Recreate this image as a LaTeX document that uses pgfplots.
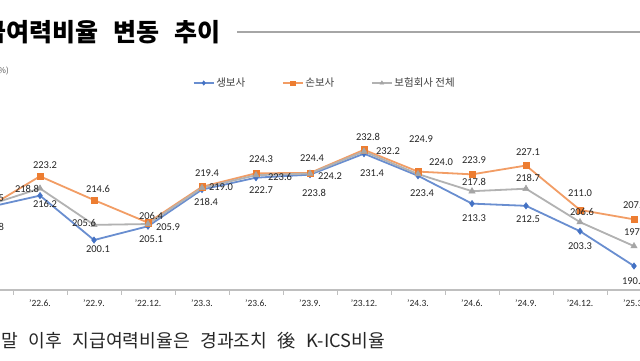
\documentclass[border=0pt]{standalone}
\usepackage{fontspec}
\usepackage{pgfplots}
\usepackage{pgfplotstable}
\pgfplotsset{compat=1.18}
\setmainfont{Carlito}
\newfontfamily\kr{Noto Sans CJK KR}
\definecolor{cblue}{HTML}{4472C4}
\definecolor{corange}{HTML}{ED7D31}
\definecolor{cgray}{HTML}{A5A5A5}
\definecolor{txt}{HTML}{262626}
\definecolor{axisgray}{HTML}{BFBFBF}

\pgfplotstableread{
x y lab dx dy
0 211.8 211.8 6 -19
1 216.2 216.2 5 -8
2 200.1 200.1 4 -9
3 205.1 205.1 3 -13
4 218.4 218.4 4 -12
5 222.7 222.7 5 -12
6 223.8 223.8 4 -18
7 231.4 231.4 8 -19
8 223.4 223.4 4 -17
9 213.3 213.3 2 -15
10 212.5 212.5 2 -13
11 203.3 203.3 0 -15
12 190.7 190.7 0 -15
}\life

\pgfplotstableread{
x y lab dx dy
0 211.5 211.5 6 10
1 223.2 223.2 5 11.5
2 214.6 214.6 4 11
3 206.4 206.4 3 7
4 219.4 219.4 5 14
5 224.3 224.3 5 14
6 224.4 224.4 2 15
7 232.8 232.8 4 13
8 224.9 224.9 3 32
9 223.9 223.9 2 14.5
10 227.1 227.1 2 13
11 211.0 211.0 0 17
12 207.6 207.6 1 14
}\nonlife

\pgfplotstableread{
x y lab dx dy
0 212.5 212.5 -22 0
1 218.8 218.8 -13 -1
2 205.6 205.6 -10 2
3 205.9 205.9 20 -3
4 219.0 219.0 19 1
5 223.6 223.6 24 -2
6 224.2 224.2 20 -3
7 232.2 232.2 24 0
8 224.0 224.0 23 12
9 217.8 217.8 2 9.5
10 218.7 218.7 2 11
11 206.6 206.6 2 10
12 197.9 197.9 2 14
}\total

\pgfplotsset{
  mylabels/.style={
    point meta=explicit symbolic,
    nodes near coords,
    visualization depends on={\thisrow{dx}\as\dx},
    visualization depends on={\thisrow{dy}\as\dy},
    nodes near coords style={anchor=center, xshift=\dx, yshift=\dy, font=\fontsize{10.5}{12}\selectfont, text=txt, inner sep=0pt},
  }
}
\newcommand{\gap}{\hspace{0.58em}}

\begin{document}
\begin{tikzpicture}
\useasboundingbox (0pt,0pt) rectangle (640pt,360pt);
\fill[white] (0pt,0pt) rectangle (640pt,360pt);
\clip (0pt,0pt) rectangle (640pt,360pt);
\begin{axis}[
  at={(-41pt,70pt)}, anchor=south west,
  scale only axis, width=702pt, height=187.68pt,
  xmin=-0.5, xmax=12.5, ymin=182, ymax=250,
  axis x line=bottom, axis y line=none,
  axis line style={-, draw=axisgray, line width=1.3pt},
  xtick={0,...,12},
  xticklabels={{'22.3.},{'22.6.},{'22.9.},{'22.12.},{'23.3.},{'23.6.},{'23.9.},{'23.12.},{'24.3.},{'24.6.},{'24.9.},{'24.12.},{'25.3.}},
  major tick length=0pt,
  minor xtick={-0.5,0.5,...,12.5},
  minor tick length=4.5pt,
  tick align=outside,
  minor tick style={draw=axisgray, line width=0.9pt},
  xticklabel style={font=\fontsize{9.5}{10}\selectfont, text=black!85, anchor=center, yshift=-13pt},
  ytick=\empty,
  clip=false,
  legend columns=3,
  legend style={at={(0.3333,1.1029)}, anchor=west, draw=none, fill=none, inner sep=0pt,
    font=\kr\fontsize{10.5}{12}\selectfont, text=black!75,
    /tikz/every even column/.append style={column sep=35pt}},
  legend image code/.code={\draw[mark repeat=2,mark phase=2,#1,mark size=2.2pt,line width=1.1pt] plot coordinates {(0pt,0pt) (10pt,0pt) (20pt,0pt)};},
]
\addplot[mylabels, draw=cblue!80, line width=1.8pt, mark=diamond*, mark size=3.2pt, mark options={draw=cblue, fill=cblue, line width=0.5pt}]
  table[x=x, y=y, meta=lab]{\life};
\addplot[mylabels, draw=corange!75, line width=1.8pt, mark=square*, mark size=3.2pt, mark options={draw=corange, fill=corange, line width=0.5pt}]
  table[x=x, y=y, meta=lab]{\nonlife};
\addplot[mylabels, draw=cgray!85, line width=1.8pt, mark=triangle*, mark size=3.6pt, mark options={draw=cgray, fill=cgray, line width=0.5pt}]
  table[x=x, y=y, meta=lab]{\total};
\legend{생보사, 손보사, 보험회사 전체}
\end{axis}
\node[anchor=base west, font=\kr\bfseries\fontsize{25}{28}\selectfont, inner sep=0pt, text=black] at (-40pt,319pt) {지급여력비율\hspace{0.6em}변동\hspace{0.6em}추이};
\draw[draw=black!35, line width=1.2pt] (237pt,328pt) -- (640pt,328pt);
\node[anchor=base west, font=\kr\fontsize{18.2}{20}\selectfont, text=txt, inner sep=0pt] at (1pt,13pt) {말\gap 이후\gap 지급여력비율은\gap 경과조치\gap 後\gap K-ICS비율};
\node[anchor=east, font=\kr\fontsize{8}{9}\selectfont, text=black!70, inner sep=0pt] at (9pt,289pt) {(\%)};
\end{tikzpicture}
\end{document}
